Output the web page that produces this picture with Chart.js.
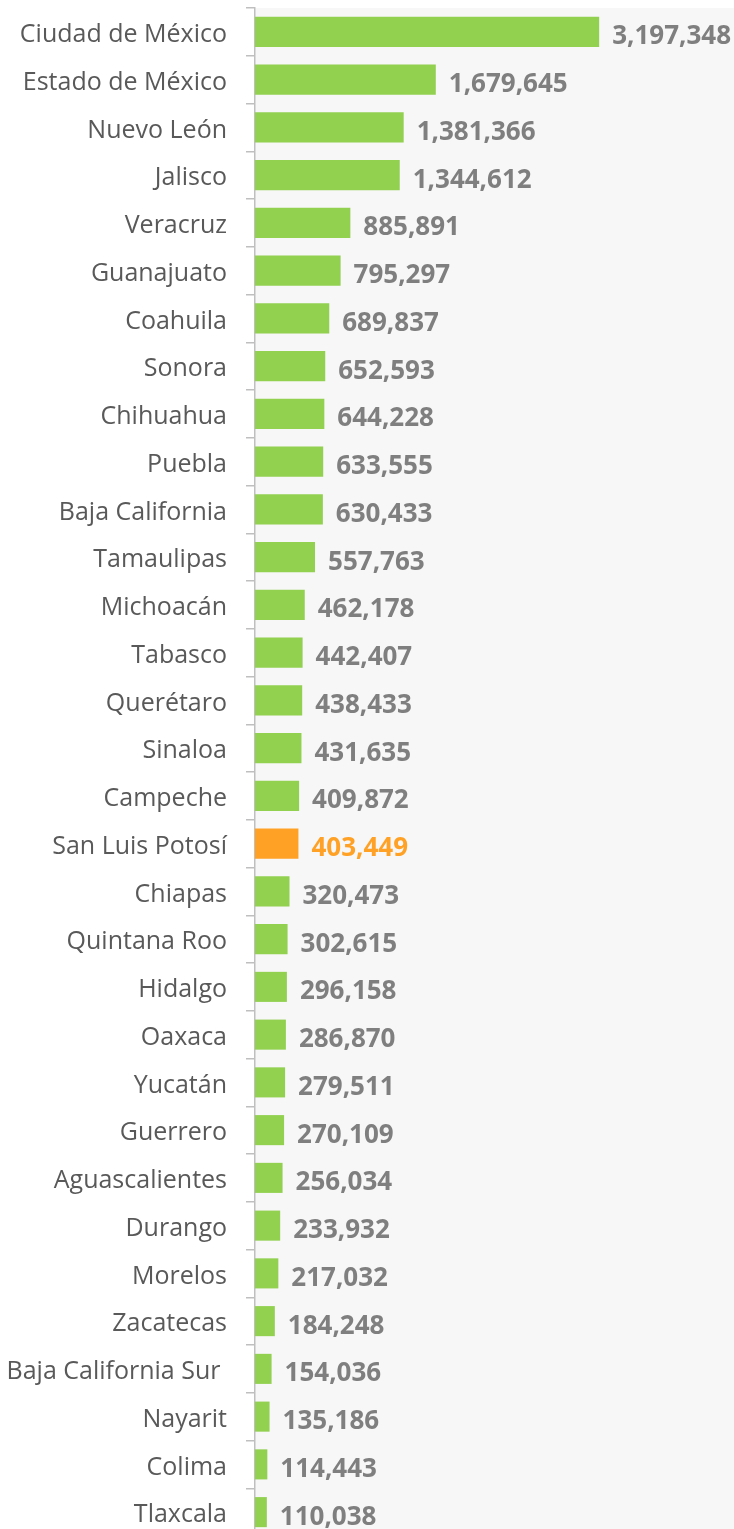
<!DOCTYPE html>
<html>
<head>
<meta charset="utf-8">
<script src="https://cdn.jsdelivr.net/npm/chart.js@4.4.0/dist/chart.umd.min.js"></script>
<style>
  html, body { margin: 0; padding: 0; background: #ffffff; overflow: hidden; }
  canvas { display: block; }
</style>
</head>
<body>
<canvas id="estadosChart" width="734" height="1536"></canvas>
<script>
// Datos por entidad federativa
const estados = [
    'Ciudad de México', 'Estado de México', 'Nuevo León', 'Jalisco', 'Veracruz',
    'Guanajuato', 'Coahuila', 'Sonora', 'Chihuahua', 'Puebla', 'Baja California',
    'Tamaulipas', 'Michoacán', 'Tabasco', 'Querétaro', 'Sinaloa', 'Campeche',
    'San Luis Potosí', 'Chiapas', 'Quintana Roo', 'Hidalgo', 'Oaxaca', 'Yucatán',
    'Guerrero', 'Aguascalientes', 'Durango', 'Morelos', 'Zacatecas',
    'Baja California Sur ', 'Nayarit', 'Colima', 'Tlaxcala'
];
const valores = [
    3197348, 1679645, 1381366, 1344612, 885891,
    795297, 689837, 652593, 644228, 633555, 630433,
    557763, 462178, 442407, 438433, 431635, 409872,
    403449, 320473, 302615, 296158, 286870, 279511,
    270109, 256034, 233932, 217032, 184248,
    154036, 135186, 114443, 110038
];
const destacado = 'San Luis Potosí';

const VERDE = '#92d050';
const NARANJA = '#ffa124';

const colores = estados.map(e => e === destacado ? NARANJA : VERDE);

// Fondo gris del área de la gráfica
const fondoPlugin = {
    id: 'fondo',
    beforeDraw(chart) {
        const { ctx, chartArea } = chart;
        ctx.save();
        ctx.fillStyle = '#f7f7f7';
        ctx.fillRect(chartArea.left, chartArea.top, chartArea.right - chartArea.left, chartArea.bottom - chartArea.top);
        ctx.restore();
    }
};

// Etiquetas de valor al final de cada barra
const etiquetasPlugin = {
    id: 'etiquetas',
    afterDatasetsDraw(chart) {
        const { ctx } = chart;
        const meta = chart.getDatasetMeta(0);
        ctx.save();
        ctx.font = 'bold 26px "Open Sans", sans-serif';
        ctx.textAlign = 'left';
        ctx.textBaseline = 'middle';
        meta.data.forEach((bar, i) => {
            ctx.fillStyle = estados[i] === destacado ? NARANJA : '#7f7f7f';
            ctx.fillText(valores[i].toLocaleString('en-US'), bar.x + 13, bar.y + 5);
        });
        ctx.restore();
    }
};

const ctx = document.getElementById('estadosChart').getContext('2d');
new Chart(ctx, {
    type: 'bar',
    data: {
        labels: estados,
        datasets: [{
            data: valores,
            backgroundColor: colores,
            borderWidth: 0,
            barPercentage: 0.63,
            categoryPercentage: 1
        }]
    },
    options: {
        indexAxis: 'y',
        responsive: false,
        animation: false,
        layout: { padding: { top: 8, right: 0, bottom: 0, left: 0 } },
        plugins: {
            legend: { display: false },
            tooltip: { enabled: false }
        },
        scales: {
            x: {
                display: false,
                min: 0,
                max: 4450000
            },
            y: {
                afterFit(scale) {
                    scale.width = 255;
                    scale.paddingTop = 0;
                    scale.paddingBottom = 0;
                },
                border: { display: true, color: '#bfbfbf', width: 1.5 },
                grid: {
                    offset: true,
                    drawOnChartArea: false,
                    drawTicks: true,
                    tickLength: 9,
                    color: '#bfbfbf',
                    lineWidth: 1.5
                },
                ticks: {
                    padding: 19,
                    labelOffset: 3,
                    color: '#595959',
                    font: { family: '"Open Sans", sans-serif', size: 25 }
                }
            }
        }
    },
    plugins: [fondoPlugin, etiquetasPlugin]
});
</script>
</body>
</html>
